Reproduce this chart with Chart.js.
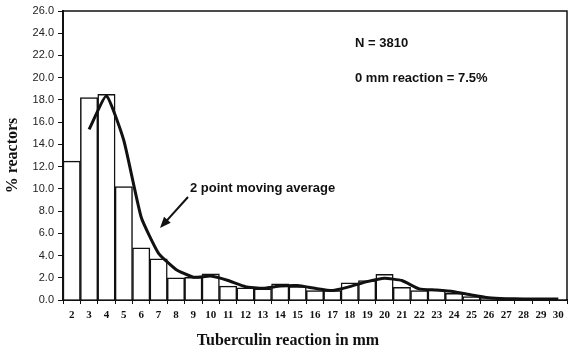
<!DOCTYPE html>
<html>
<head>
<meta charset="utf-8">
<script src="https://cdn.jsdelivr.net/npm/chart.js@4/dist/chart.umd.min.js"></script>
<style>
    body { margin: 0; background: #fff; }
    canvas { display: block; }
</style>
</head>
<body>
<canvas id="tbChart" width="578" height="354"></canvas>
<script>
// reaction size in mm
var labelsMm = ["2", "3", "4", "5", "6", "7", "8", "9", "10", "11", "12", "13", "14", "15", "16",
    "17", "18", "19", "20", "21", "22", "23", "24", "25", "26", "27", "28", "29", "30"];

// % reactors per mm
var pctReactors = [12.5, 18.2, 18.5, 10.2, 4.7, 3.7, 2.0, 2.05, 2.35, 1.25, 1.1, 1.0, 1.45, 1.2, 0.85,
    0.85, 1.55, 1.75, 2.3, 1.15, 0.85, 0.9, 0.6, 0.3, 0.15, 0.1, 0.1, 0.1, 0.05];

// 2 point moving average
var movingAvg = [null, 15.35, 18.35, 14.35, 7.45, 4.2, 2.75, 2.05, 2.15, 1.75, 1.2, 1.05, 1.25, 1.3, 1.05,
    0.85, 1.2, 1.65, 1.95, 1.75, 1.0, 0.9, 0.75, 0.45, 0.2, 0.12, 0.1, 0.1, 0.08];

var yTicks = { min: 0, max: 26, step: 2 };

var notes = {
    count: "N = 3810",
    zero: "0 mm reaction = 7.5%",
    curve: "2 point moving average",
    xTitle: "Tuberculin reaction in mm"
};

var sansBold = "bold 13px 'Liberation Sans', Arial, sans-serif";

// box round the plot, labels and the arrow
var extras = {
    id: "extras",
    afterDraw: function (chart) {
        var ctx = chart.ctx;
        var area = chart.chartArea;
        ctx.save();
        ctx.strokeStyle = "#111";
        ctx.lineWidth = 1.5;
        ctx.beginPath();
        ctx.moveTo(area.left, area.top);
        ctx.lineTo(area.right, area.top);
        ctx.lineTo(area.right, area.bottom);
        ctx.stroke();

        ctx.fillStyle = "#111";
        ctx.font = sansBold;
        ctx.textBaseline = "alphabetic";
        ctx.textAlign = "left";
        ctx.fillText(notes.count, 355, 47);
        ctx.fillText(notes.zero, 355, 82);
        ctx.fillText(notes.curve, 190, 192);

        // arrow
        var x1 = 188, y1 = 197, x2 = 160, y2 = 228;
        var ang = Math.atan2(y2 - y1, x2 - x1);
        ctx.lineWidth = 2;
        ctx.beginPath();
        ctx.moveTo(x1, y1);
        ctx.lineTo(x2 - 6 * Math.cos(ang), y2 - 6 * Math.sin(ang));
        ctx.stroke();
        ctx.beginPath();
        ctx.moveTo(x2, y2);
        ctx.lineTo(x2 - 11 * Math.cos(ang) + 4.5 * Math.sin(ang), y2 - 11 * Math.sin(ang) - 4.5 * Math.cos(ang));
        ctx.lineTo(x2 - 11 * Math.cos(ang) - 4.5 * Math.sin(ang), y2 - 11 * Math.sin(ang) + 4.5 * Math.cos(ang));
        ctx.closePath();
        ctx.fill();

        ctx.font = "bold 16px 'Liberation Serif', 'Times New Roman', serif";
        ctx.textAlign = "center";
        ctx.fillText(notes.xTitle, 288, 345);
        ctx.restore();
    }
};

var ctx = document.getElementById("tbChart");
var data = {
    labels: labelsMm,
    datasets: [
        {
            type: "line",
            label: notes.curve,
            data: movingAvg,
            borderColor: "#111",
            borderWidth: 3,
            pointRadius: 0,
            tension: 0.15,
            fill: false,
            order: 0
        },
        {
            type: "bar",
            label: "% reactors",
            data: pctReactors,
            backgroundColor: "#fff",
            borderColor: "#111",
            borderWidth: 1.5,
            barPercentage: 1.0,
            categoryPercentage: 1.0,
            order: 1
        }
    ]
};

new Chart(ctx, {
    data: data,
    plugins: [extras],
    options: {
        responsive: false,
        animation: false,
        layout: { padding: { top: 11, right: 11, left: 0, bottom: 0 } },
        plugins: {
            legend: { display: false },
            tooltip: { enabled: false }
        },
        scales: {
            x: {
                offset: true,
                afterFit: function (axis) { axis.height = 54; },
                grid: {
                    offset: true,
                    drawOnChartArea: false,
                    tickLength: 4,
                    color: "#111",
                    lineWidth: 1
                },
                border: { color: "#111", width: 2 },
                ticks: {
                    padding: 5,
                    color: "#111",
                    maxRotation: 0,
                    autoSkip: false,
                    font: { family: "'Liberation Serif', 'Times New Roman', serif", size: 11, weight: "bold" }
                }
            },
            y: {
                min: yTicks.min,
                max: yTicks.max,
                afterFit: function (axis) { axis.width = 63; },
                grid: {
                    drawOnChartArea: false,
                    tickLength: 5,
                    color: "#111"
                },
                border: { color: "#111", width: 2 },
                ticks: {
                    stepSize: yTicks.step,
                    padding: 4,
                    color: "#222",
                    font: { family: "'Liberation Sans', Arial, sans-serif", size: 11 },
                    callback: function (value) { return value.toFixed(1); }
                },
                title: {
                    display: true,
                    text: "% reactors",
                    color: "#111",
                    padding: { top: 3, bottom: 0 },
                    font: { family: "'Liberation Serif', 'Times New Roman', serif", size: 16, weight: "bold" }
                }
            }
        }
    }
});
</script>
</body>
</html>
